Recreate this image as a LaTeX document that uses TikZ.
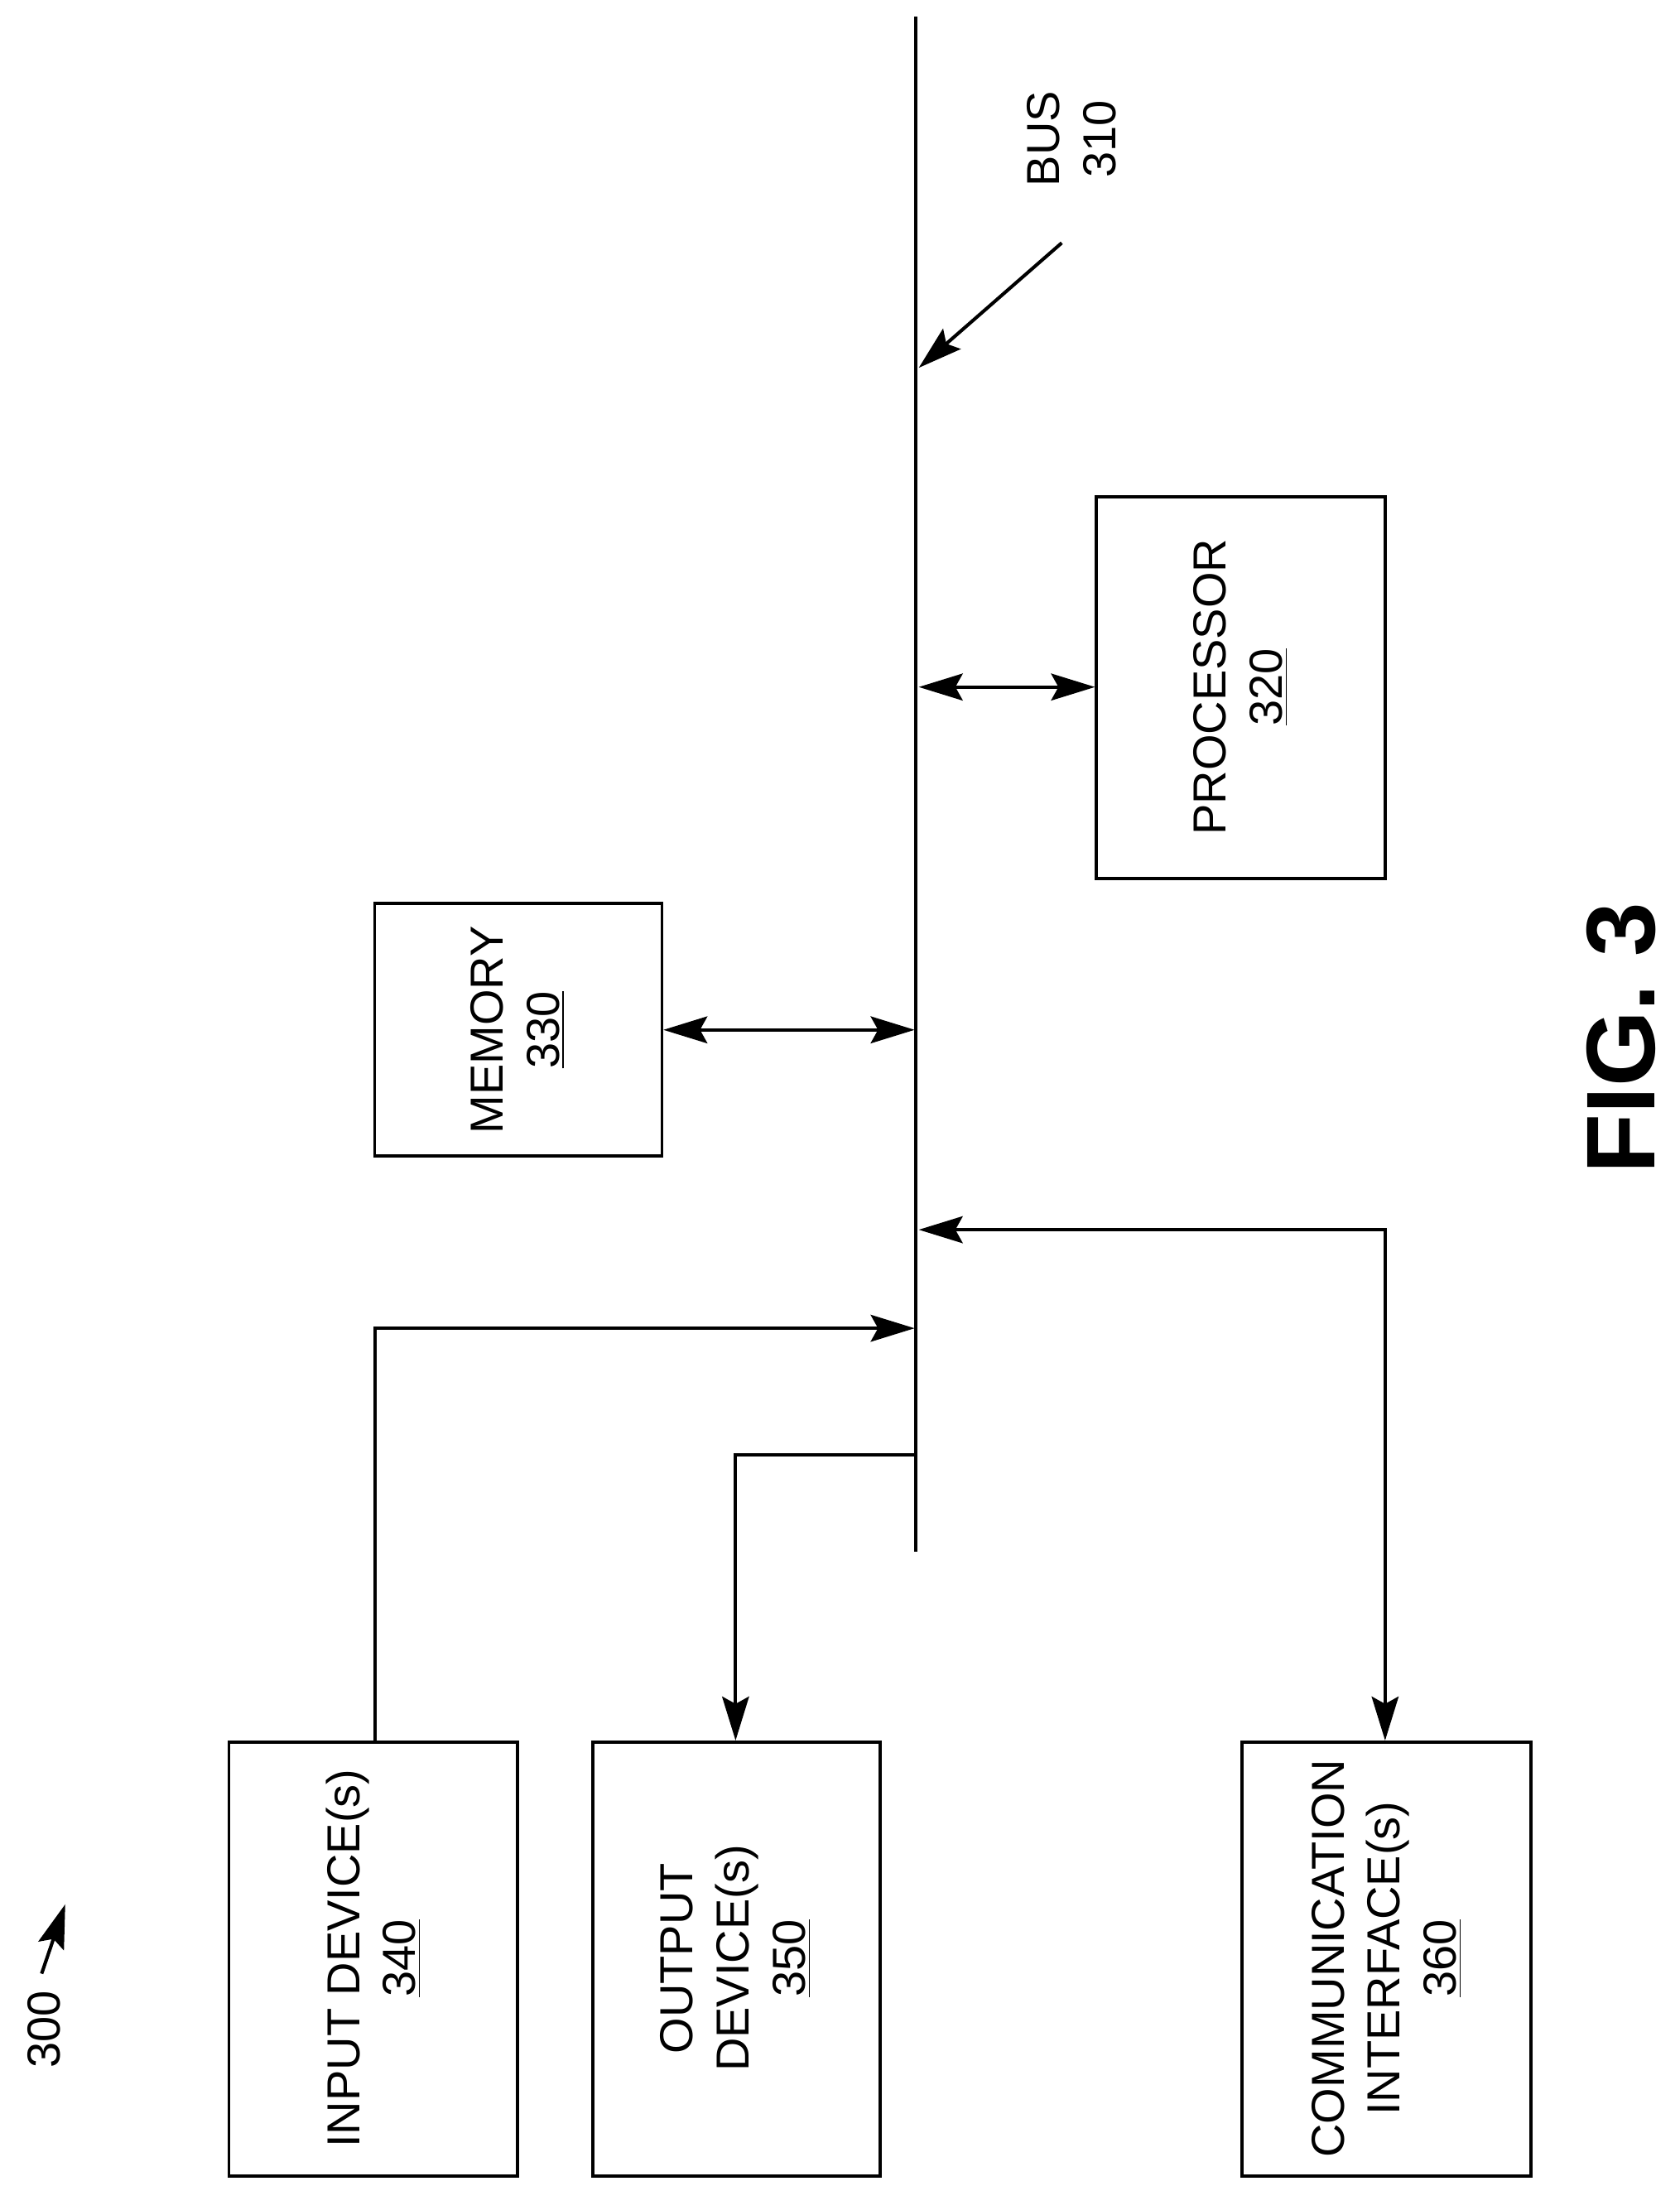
\documentclass[tikz,border=0pt]{standalone}
\usepackage{fontspec}
\setmainfont{Liberation Sans}
\usetikzlibrary{arrows.meta}
\begin{document}
\begin{tikzpicture}[x=0.02cm,y=-0.02cm,
  box/.style={draw,line width=1.3pt,inner sep=0pt},
  lbl/.style={rotate=90,align=center,font=\fontsize{19}{23}\selectfont},
  ln/.style={line width=1.4pt},
  arr/.style={ln,-{Stealth[length=18pt,width=11pt,inset=3pt]}},
  darr/.style={ln,{Stealth[length=18pt,width=11pt,inset=3pt]}-{Stealth[length=18pt,width=11pt,inset=3pt]}}]
\useasboundingbox (0,0) rectangle (1210,1575);
% bus
\coordinate (bt) at (660,12); \coordinate (bb) at (660,1118);
\draw[ln] (bt) -- (bb);
\node[lbl] (buslbl) at (772,100) {BUS\\310};
\coordinate (busa) at (765,175); \coordinate (busb) at (662,265);
\draw[arr] (busa) -- (busb);
% boxes
\draw[box] (790,358) rectangle (998,633);
\node[lbl] (proc) at (894,495) {PROCESSOR\\\underline{320}};
\draw[box] (270,651) rectangle (477,833);
\node[lbl] (mem) at (373,742) {MEMORY\\\underline{330}};
\draw[box] (165,1255) rectangle (373,1568);
\node[lbl] (inp) at (269,1411) {INPUT DEVICE(s)\\\underline{340}};
\draw[box] (427,1255) rectangle (634,1568);
\node[lbl] (out) at (530,1411) {OUTPUT\\DEVICE(s)\\\underline{350}};
\draw[box] (895,1255) rectangle (1103,1568);
\node[lbl] (com) at (999,1411) {COMMUNICATION\\INTERFACE(s)\\\underline{360}};
% connectors
\coordinate (p1) at (662,495); \coordinate (p2) at (789,495);
\draw[darr] (p1) -- (p2);
\coordinate (m1) at (478,742); \coordinate (m2) at (659,742);
\draw[darr] (m1) -- (m2);
\coordinate (c1) at (998,1254); \coordinate (c2) at (998,886); \coordinate (c3) at (662,886);
\draw[darr] (c1) -- (c2) -- (c3);
\coordinate (i1) at (270,1255); \coordinate (i2) at (270,957); \coordinate (i3) at (659,957);
\draw[arr] (i1) -- (i2) -- (i3);
\coordinate (o1) at (660,1048); \coordinate (o2) at (530,1048); \coordinate (o3) at (530,1254);
\draw[arr] (o1) -- (o2) -- (o3);
% 300
\node[lbl] (fig300) at (32,1462) {300};
\coordinate (a1) at (30,1422); \coordinate (a2) at (47,1372);
\draw[arr] (a1) -- (a2);
\node[rotate=90,font=\bfseries\fontsize{40}{46}\selectfont] (fig) at (1168,748) {FIG. 3};
\end{tikzpicture}
\end{document}
